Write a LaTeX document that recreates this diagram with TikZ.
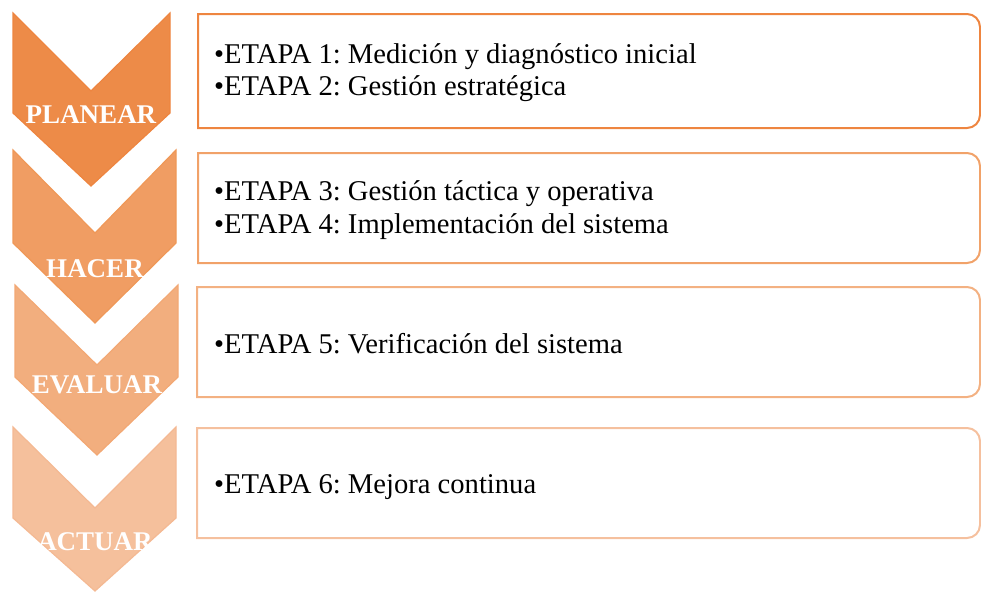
\documentclass[tikz,border=0pt]{standalone}
\usepackage{fontspec}
\setmainfont{Liberation Serif}
\usetikzlibrary{positioning}
\frenchspacing

\definecolor{fill1}{HTML}{ED8B48}
\definecolor{fill2}{HTML}{F09D63}
\definecolor{fill3}{HTML}{F2AE7E}
\definecolor{fill4}{HTML}{F5C09C}
\definecolor{line1}{HTML}{EE8540}
\definecolor{line2}{HTML}{EF9858}
\definecolor{line3}{HTML}{F2A874}
\definecolor{line4}{HTML}{F4B993}

\begin{document}
\begin{tikzpicture}[x=1pt,y=-1pt]
\tikzstyle{fase}=[text=white,font=\bfseries\fontsize{27}{27}\selectfont,
inner sep=0pt,anchor=base]
\tikzstyle{etapa}=[text=black,font=\fontsize{28.6}{32}\selectfont,
inner sep=0pt,anchor=base west]
\tikzstyle{marco}=[line width=2pt]
\tikzstyle{flecha}=[line width=1.2pt,line join=miter]
\useasboundingbox (0,0) rectangle (981,592);
% chevrons
\filldraw[flecha,fill=fill1,draw=line1] (13,13) -- (91,91) -- (170,13) -- (170,113) -- (91,186) -- (13,113) -- cycle;
\filldraw[flecha,fill=fill2,draw=line2] (13,150) -- (95,233) -- (176,150) -- (176,243) -- (95,323) -- (13,243) -- cycle;
\filldraw[flecha,fill=fill3,draw=line3] (15,285) -- (97,365) -- (178,285) -- (178,377) -- (97,455) -- (15,377) -- cycle;
\filldraw[flecha,fill=fill4,draw=line4] (13,427) -- (95,508) -- (176,427) -- (176,518) -- (95,591) -- (13,518) -- cycle;
% boxes
\draw[marco,draw=line1] (198,14) -- (967,14) arc(-90:0:13) -- (980,115) arc(0:90:13) -- (198,128) -- cycle;
\draw[marco,draw=line2!90!white] (198,153) -- (967,153) arc(-90:0:13) -- (980,250) arc(0:90:13) -- (198,263) -- cycle;
\draw[marco,draw=line3!90!white] (197,287) -- (967,287) arc(-90:0:13) -- (980,384) arc(0:90:13) -- (197,397) -- cycle;
\draw[marco,draw=line4!90!white] (197,428) -- (967,428) arc(-90:0:13) -- (980,525) arc(0:90:13) -- (197,538) -- cycle;
% labels
\node[fase] (planear) at (91,123) {PLANEAR};
\node[fase] (hacer) at (95,277) {HACER};
\node[fase] (evaluar) at (97,393) {EVALUAR};
\node[fase] (actuar) at (95,550) {ACTUAR};
\node[etapa] (etapa1) at (214,63) {\textbullet ETAPA 1: Medición y diagnóstico inicial};
\node[etapa] (etapa2) at (214,95) {\textbullet ETAPA 2: Gestión estratégica};
\node[etapa] (etapa3) at (214,200) {\textbullet ETAPA 3: Gestión táctica y operativa};
\node[etapa] (etapa4) at (214,233) {\textbullet ETAPA 4: Implementación del sistema};
\node[etapa] (etapa5) at (214,353) {\textbullet ETAPA 5: Verificación del sistema};
\node[etapa] (etapa6) at (214,493) {\textbullet ETAPA 6: Mejora continua};
\end{tikzpicture}
\end{document}
